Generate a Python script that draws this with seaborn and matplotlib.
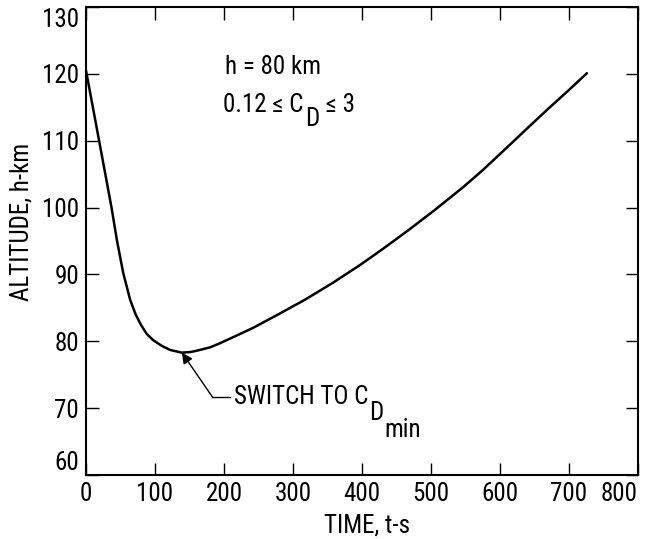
import matplotlib
matplotlib.use("Agg")
import numpy as np
import pandas as pd
import seaborn as sns
import matplotlib.pyplot as plt
import matplotlib.transforms as mtransforms
from matplotlib import font_manager

# ---- data ----
time_s = [0, 19, 37, 45, 54, 64, 72, 80, 88, 97, 110, 122, 139, 152, 165, 180, 194, 215, 242,
          280, 317, 357, 397, 430, 467, 505, 546, 575, 604, 640, 668, 700, 726]
altitude_km = [120.5, 110.0, 100.0, 95.0, 90.2, 86.2, 84.0, 82.4, 81.1, 80.2, 79.3, 78.7, 78.3,
               78.4, 78.7, 79.1, 79.7, 80.7, 82.0, 84.1, 86.2, 88.7, 91.4, 93.8, 96.6, 99.6,
               103.0, 105.6, 108.4, 111.9, 114.6, 117.6, 120.1]
x_ticks = [0, 100, 200, 300, 400, 500, 600, 700, 800]
y_ticks = [60, 70, 80, 90, 100, 110, 120, 130]

switch_point = (139, 78.3)
switch_label_pos = (183, 71.7)

sns.set_theme(style="ticks")
names = {f.name for f in font_manager.fontManager.ttflist}
fams = [f for f in ["Roboto Condensed", "DejaVu Sans Condensed", "Liberation Sans Narrow"] if f in names]
plt.rcParams["font.family"] = fams + ["DejaVu Sans"]
if not fams:
    plt.rcParams["font.stretch"] = "condensed"

W, H = 652, 539
fig = plt.figure(figsize=(W / 100, H / 100), dpi=100)
L, R, T, B = 86, 638, 7, 475
ax = fig.add_axes([L / W, 1 - B / H, (R - L) / W, (B - T) / H])

df = pd.DataFrame({"t": time_s, "h": altitude_km})
sns.lineplot(data=df, x="t", y="h", ax=ax, color="black", lw=1.8,
             estimator=None, sort=False)

FS = 18
ax.set_xlim(0, 800)
ax.set_ylim(60, 130)
ax.set_xticks(x_ticks)
ax.set_yticks(y_ticks)
ax.tick_params(direction="in", length=9, width=1.0, top=True, right=True,
               labelsize=FS, pad=5, colors="black")
for s in ax.spines.values():
    s.set_linewidth(1.5)
    s.set_color("black")

ax.set_xlabel("TIME, t-s", fontsize=FS, color="black")
ax.set_ylabel("ALTITUDE, h-km", fontsize=FS, color="black")
ax.xaxis.set_label_coords(0.51, -0.082)
ax.yaxis.set_label_coords(-0.095, 0.54)

# arrow annotation
ax.annotate("", xy=switch_point, xytext=switch_label_pos,
            arrowprops=dict(arrowstyle="-|>", color="black", lw=1.0,
                            mutation_scale=16, shrinkA=0, shrinkB=0))
ax.plot([switch_label_pos[0], 209], [switch_label_pos[1]] * 2, color="black", lw=1.0)

renderer = fig.canvas.get_renderer()


def chain(x, y, pieces, size=FS):
    """pieces: list of (string, dy_pixels) drawn one after another."""
    dx = 0.0
    for s, dy in pieces:
        tr = mtransforms.offset_copy(ax.transData, fig=fig, x=dx, y=-dy, units="dots")
        t = ax.text(x, y, s, transform=tr, fontsize=size, ha="left",
                    va="center", color="black")
        bb = t.get_window_extent(renderer)
        dx += bb.width + 1


chain(201, 121.0, [("h = 80 km", 0)])
chain(199, 115.3, [("0.12 \u2264 C", 0), ("D", 14), (" \u2264 3", 0)])
chain(214, 71.6, [("SWITCH TO C", 0), ("D", 16), ("min", 33)])

fig.canvas.draw()
for lab in ax.get_xticklabels():
    if lab.get_text() == "800":
        lab.set_horizontalalignment("right")
for lab in ax.get_yticklabels():
    if lab.get_text() == "130":
        lab.set_verticalalignment("top")
        lab.set_transform(lab.get_transform() + mtransforms.ScaledTranslation(0, -0.01, fig.dpi_scale_trans))
    elif lab.get_text() == "60":
        lab.set_verticalalignment("bottom")

fig.savefig("out.png", dpi=100)
